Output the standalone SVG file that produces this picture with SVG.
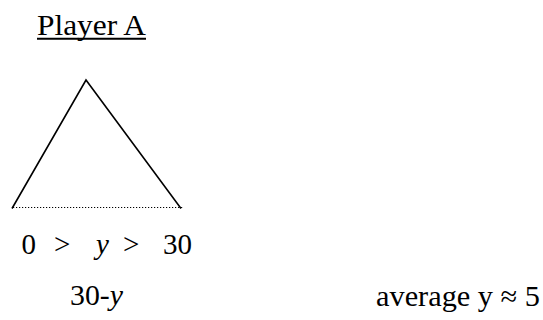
<svg xmlns="http://www.w3.org/2000/svg" width="543" height="320" viewBox="0 0 543 320">
<style>
text{font-family:"Liberation Serif","Times New Roman",serif;fill:#000}
.t{font-size:30px}
.m{font-size:29px}
.i{font-style:italic}
</style>
<rect width="543" height="320" fill="#fff"/>
<g id="title">
<text class="t" x="37" y="35" textLength="109" lengthAdjust="spacingAndGlyphs">Player A</text>
<line x1="37" y1="38.8" x2="146" y2="38.8" stroke="#000" stroke-width="2"/>
</g>
<g id="tree">
<polyline points="12,208.5 86,80 181,208.5" fill="none" stroke="#000" stroke-width="1.6" stroke-linejoin="miter"/>
</g>
<g id="connectors">
<line x1="13" y1="207.5" x2="183" y2="207.5" stroke="#000" stroke-width="1.2" stroke-dasharray="1.2,1.8"/>
</g>
<g id="range">
<text class="m" y="254"><tspan x="21.5">0</tspan><tspan x="54">&gt;</tspan><tspan x="96" class="i">y</tspan><tspan x="123">&gt;</tspan><tspan x="163" textLength="29" lengthAdjust="spacingAndGlyphs">30</tspan></text>
</g>
<g id="payoff">
<text class="m" x="70" y="305" textLength="53" lengthAdjust="spacingAndGlyphs">30-<tspan class="i">y</tspan></text>
</g>
<g id="average">
<text class="m" x="376" y="306" textLength="164" lengthAdjust="spacingAndGlyphs">average y ≈ 5</text>
</g>
</svg>
